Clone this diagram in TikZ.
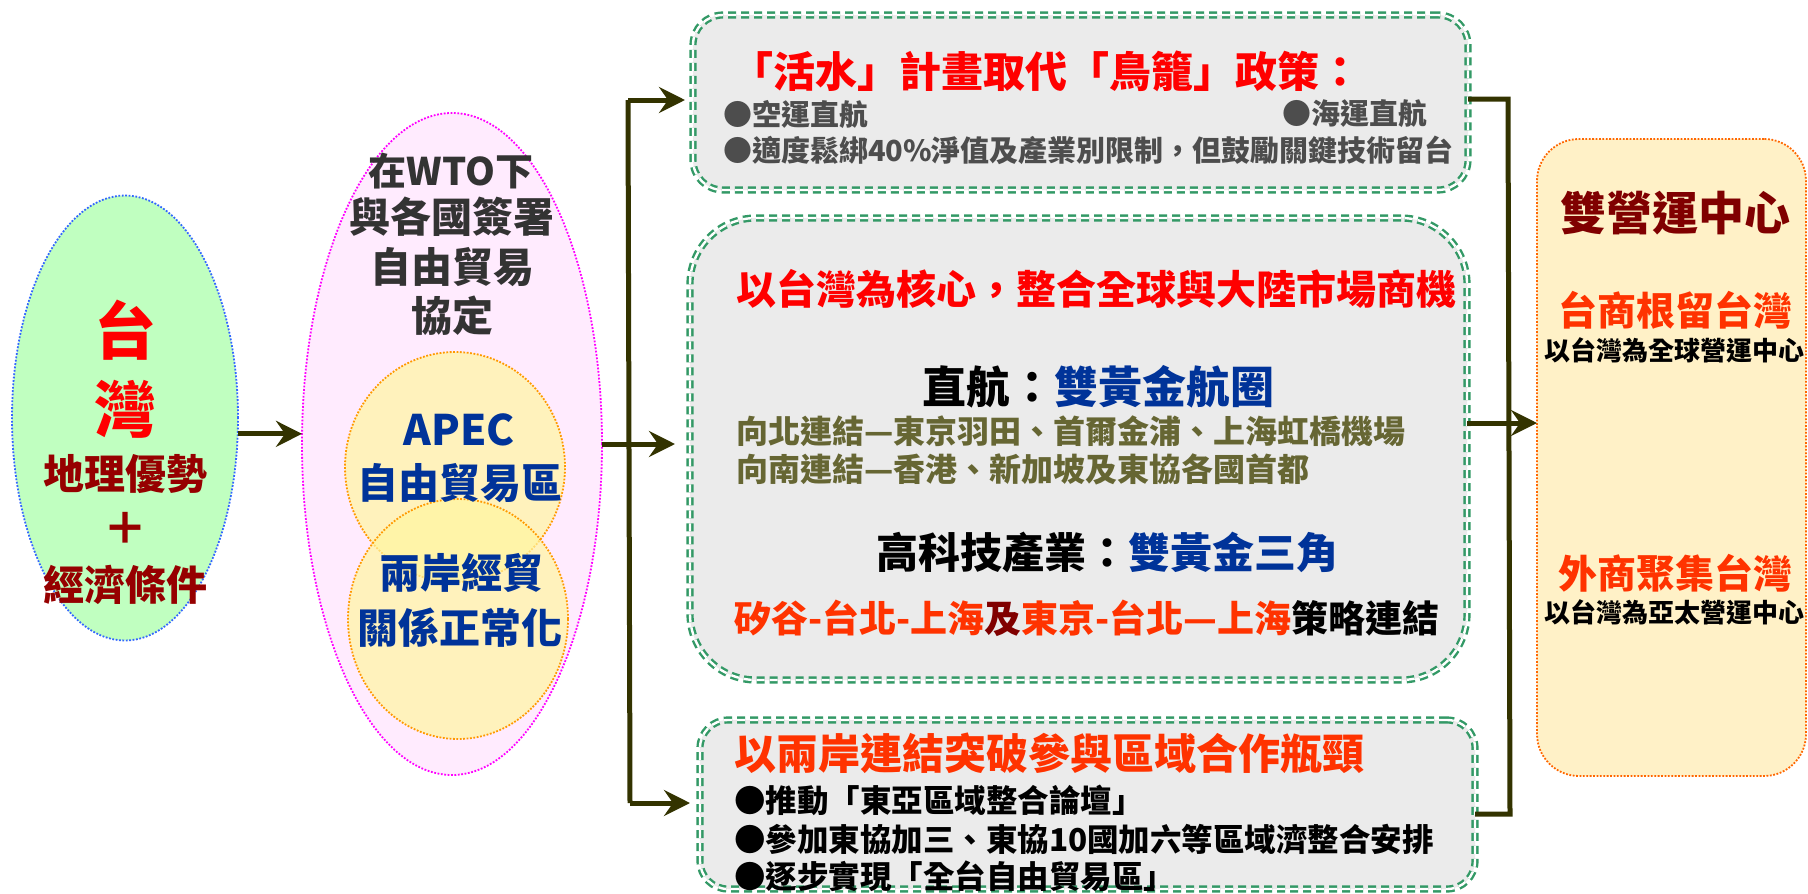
\documentclass[tikz,border=0pt]{standalone}
\usepackage{fontspec}
\setmainfont{Noto Sans CJK TC}[UprightFont=* Black, BoldFont=* Black]
\usetikzlibrary{arrows.meta,shapes.geometric}
\newcommand\myfs[1]{\fontsize{#1pt}{#1pt}\selectfont}
\definecolor{lineol}{RGB}{51,51,0}
\definecolor{gfill}{RGB}{192,255,192}
\definecolor{gborder}{RGB}{51,102,255}
\definecolor{pfill}{RGB}{255,235,254}
\definecolor{pborder}{RGB}{255,0,255}
\definecolor{yfill}{RGB}{255,246,160}
\definecolor{yborder}{RGB}{255,153,0}
\definecolor{boxfill}{RGB}{235,235,235}
\definecolor{boxborder}{RGB}{51,153,102}
\definecolor{rfill}{RGB}{255,241,199}
\definecolor{rborder}{RGB}{255,102,0}
\definecolor{tred}{RGB}{255,0,0}
\definecolor{dred}{RGB}{150,0,0}
\definecolor{mred}{RGB}{128,0,0}
\definecolor{ored}{RGB}{255,51,0}
\definecolor{tblue}{RGB}{0,51,153}
\definecolor{tgray}{RGB}{77,77,77}
\definecolor{tolive}{RGB}{102,102,51}
\definecolor{tdark}{RGB}{51,51,51}
\begin{document}
\begin{tikzpicture}[x=1pt,y=-1pt,
  wire/.style={draw=lineol, line width=5pt},
  arr/.style={wire, -{Stealth[length=26pt,width=26pt,inset=9pt]}},
  tx/.style={inner sep=0pt, outer sep=0pt},
  oval/.style={ellipse, inner sep=0pt, outer sep=0pt, line width=1.8pt, dash pattern=on 1.8pt off 1.6pt},
  gbox/.style={rectangle, rounded corners=#1, draw=boxborder, line width=2.4pt, double=white, double distance=2.4pt, dash pattern=on 8pt off 5pt, fill=boxfill, inner sep=0pt, outer sep=0pt},
  rbox/.style={rectangle, rounded corners=42pt, draw=rborder, fill=rfill, line width=1.8pt, dash pattern=on 1.8pt off 1.6pt, inner sep=0pt, outer sep=0pt},
]
\useasboundingbox (0,0) rectangle (1808,894);

% ---------- left ellipses ----------
\node[oval, draw=gborder, fill=gfill, minimum width=226pt, minimum height=445pt] (green) at (125,418) {};
\node[oval, draw=pborder, fill=pfill, minimum width=300pt, minimum height=662pt] (pink) at (452,444) {};
\node[oval, draw=yborder, fill=yfill, fill opacity=0.7, minimum width=220pt, minimum height=230pt] (yc1) at (455,467) {};
\node[oval, draw=yborder, fill=yfill, fill opacity=0.7, minimum width=220pt, minimum height=240pt] (yc2) at (458,619) {};

\node[tx, text=tred, font=\myfs{62}] (g1) at (125,330) {台};
\node[tx, text=tred, font=\myfs{62}] (g2) at (125,409) {灣};
\node[tx, text=dred, font=\myfs{41}] (g3) at (125,474) {地理優勢};
\node[tx, text=dred, font=\myfs{44}] (g4) at (125,528) {＋};
\node[tx, text=dred, font=\myfs{41}] (g5) at (125,585) {經濟條件};

\node[tx, text=tdark, font=\myfs{38}] (p1) at (451,171) {在WTO下};
\node[tx, text=tdark, font=\myfs{41}] (p2) at (452,217) {與各國簽署};
\node[tx, text=tdark, font=\myfs{41}] (p3) at (452,267) {自由貿易};
\node[tx, text=tdark, font=\myfs{41}] (p4) at (452,316) {協定};

\node[tx, text=tblue, font=\myfs{42}] (a1) at (459,430) {APEC};
\node[tx, text=tblue, font=\myfs{41}] (a2) at (460,483) {自由貿易區};
\node[tx, text=tblue, font=\myfs{41}] (a3) at (461,573) {兩岸經貿};
\node[tx, text=tblue, font=\myfs{41}] (a4) at (460,628) {關係正常化};

% ---------- middle boxes ----------
\node[gbox=30pt, minimum width=775pt, minimum height=175pt] (top) at (1080.5,102.5) {};
\node[gbox=66pt, minimum width=777pt, minimum height=462pt] (mid) at (1078.5,449) {};
\node[gbox=28pt, minimum width=775pt, minimum height=169pt] (bot) at (1087.5,804.5) {};

\node[tx, anchor=west, text=tred, font=\myfs{42}] (t1) at (731,71) {「活水」計畫取代「鳥籠」政策：};
\node[tx, anchor=west, text=tgray, font=\myfs{29}] (t2) at (723,114) {●空運直航};
\node[tx, anchor=west, text=tgray, font=\myfs{29}] (t3) at (1282,114) {●海運直航};
\node[tx, anchor=west, text=tgray, font=\myfs{29}] (t4) at (723,150) {●適度鬆綁40\%淨值及產業別限制，但鼓勵關鍵技術留台};

\node[tx, anchor=west, text=tred, font=\myfs{40}] (m1) at (736,289) {以台灣為核心，整合全球與大陸市場商機};
\node[tx, font=\myfs{44}] (m2) at (1098,387) {\textcolor{black}{直航：}\textcolor{tblue}{雙黃金航圈}};
\node[tx, anchor=west, text=tolive, font=\myfs{32}] (m3) at (736,431) {向北連結—東京羽田、首爾金浦、上海虹橋機場};
\node[tx, anchor=west, text=tolive, font=\myfs{32}] (m4) at (736,469) {向南連結—香港、新加坡及東協各國首都};
\node[tx, font=\myfs{42}] (m5) at (1107,553) {\textcolor{black}{高科技產業：}\textcolor{tblue}{雙黃金三角}};
\node[tx, anchor=west, font=\myfs{37}] (m6) at (734,618) {\textcolor{ored}{矽谷-台北-上海}\textcolor{mred}{及}\textcolor{ored}{東京-台北—上海}\textcolor{black}{策略連結}};

\node[tx, anchor=west, text=ored, font=\myfs{42}] (b1) at (734,753) {以兩岸連結突破參與區域合作瓶頸};
\node[tx, anchor=west, text=black, font=\myfs{31.5}] (b2) at (734,800) {●推動「東亞區域整合論壇」};
\node[tx, anchor=west, text=black, font=\myfs{31.5}] (b3) at (734,839) {●參加東協加三、東協10國加六等區域濟整合安排};
\node[tx, anchor=west, text=black, font=\myfs{31.5}] (b4) at (734,876) {●逐步實現「全台自由貿易區」};

% ---------- right box ----------
\node[rbox, minimum width=269pt, minimum height=637pt] (right) at (1671.5,457.5) {};
\node[tx, text=mred, font=\myfs{46}] (r1) at (1675,213) {雙營運中心};
\node[tx, text=ored, font=\myfs{39}] (r2) at (1675,310) {台商根留台灣};
\node[tx, text=black, font=\myfs{26}] (r3) at (1674,350) {以台灣為全球營運中心};
\node[tx, text=ored, font=\myfs{39}] (r4) at (1675,573) {外商聚集台灣};
\node[tx, text=black, font=\myfs{26}] (r5) at (1674,612) {以台灣為亞太營運中心};

% ---------- connectors ----------
\draw[arr] (green.-8.5) -- (green.-8.5 -| pink.west);

\coordinate (L1) at (628,100);
\coordinate (L3) at (630,803);
\draw[wire] (L1) -- (L3);
\draw[arr] (L1) -- ([xshift=-8pt]top.west |- L1);
\draw[arr] (pink.east) -- ([xshift=-15pt]mid.west |- pink.east);
\draw[arr] (L3) -- ([xshift=-10pt]bot.west |- L3);

\coordinate (R1) at (1508,99);
\coordinate (R2) at (1508,423);
\coordinate (R3) at (1510,814);
\draw[wire, line join=miter] (top.east |- R1) -- (R1) -- (R3) -- (bot.east |- R3);
\draw[arr] (mid.east |- R2) -- (right.west |- R2);
\end{tikzpicture}
\end{document}
